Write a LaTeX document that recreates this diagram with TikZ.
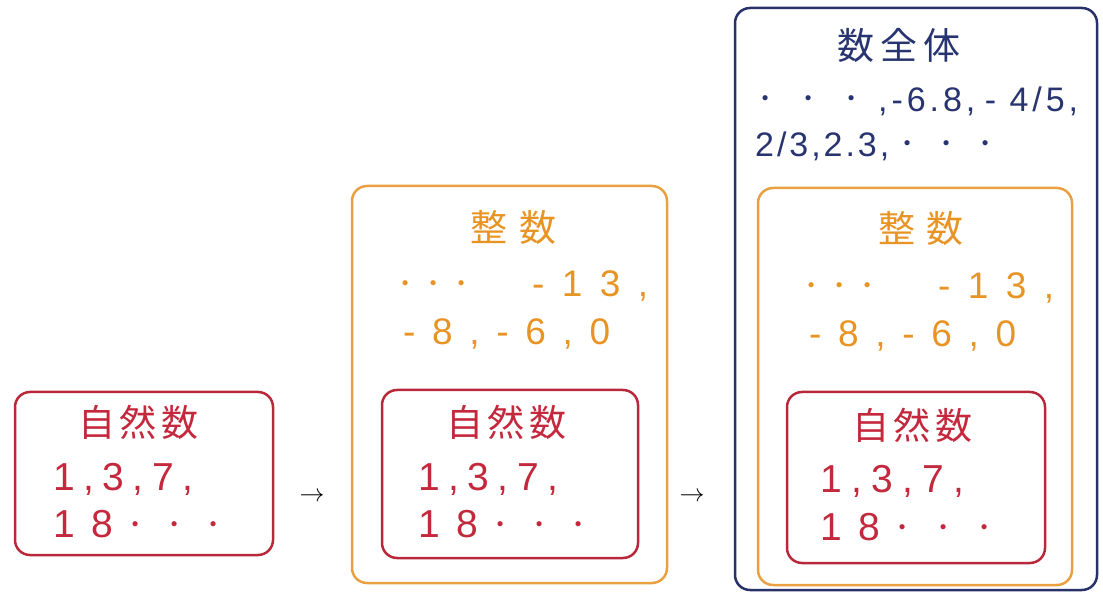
\documentclass[tikz,border=0pt]{standalone}
\usepackage{fontspec}
\setmainfont{Liberation Sans}
\newfontfamily\cjk{Noto Sans CJK JP}
\definecolor{redln}{RGB}{185,40,58}
\definecolor{orln}{RGB}{232,160,64}
\definecolor{nvln}{RGB}{40,50,104}
\definecolor{redt}{RGB}{196,40,60}
\definecolor{ort}{RGB}{232,148,36}
\definecolor{nvt}{RGB}{40,52,112}
\newcommand\gp{\hfill}
\newcommand\dt{\makebox[10pt]{\raisebox{7pt}{\fontsize{19}{20}\selectfont •}}}
\newcommand\spr[2]{\makebox[#1pt][s]{#2}}
\tikzset{
  bx/.style={draw, rounded corners=15pt, line width=2.5pt, inner sep=0pt},
  rbox/.style={bx, draw=redln},
  obox/.style={bx, draw=orln},
  nbox/.style={bx, draw=nvln},
  txt/.style={inner sep=0pt, anchor=base west},
  rtxt/.style={txt, text=redt, font=\fontsize{39}{44}\selectfont},
  otxt/.style={txt, text=ort, font=\fontsize{37}{44}\selectfont},
  ntxt/.style={txt, text=nvt, font=\fontsize{34}{40}\selectfont},
  ttl/.style={inner sep=0pt, anchor=center, font=\cjk\fontsize{37}{42}\selectfont},
  arr/.style={inner sep=0pt, font=\fontsize{28}{30}\selectfont}
}
\begin{document}
\begin{tikzpicture}[x=1pt,y=-1pt]
\useasboundingbox (0,0) rectangle (1103,593);
% ---------- box A
\node[rbox, minimum width=258, minimum height=163] (A) at (144,473.5) {};
\node[ttl, text=redt] (Atitle) at (138.5,422) {\spr{120}{自\gp{}然\gp{}数}};
\node[rtxt] (Al1) at (53,490) {\spr{140}{1\gp{},\gp{}3\gp{},\gp{}7\gp{},}};
\node[rtxt] (Al2a) at (53,537) {\spr{60}{1\gp{}8}};
\node[rtxt] (Al2b) at (130,537) {\spr{88}{\dt\gp{}\dt\gp{}\dt}};
% arrow 1
\node[arr] (ar1) at (312,497) {$\rightarrow$};
% ---------- box B
\node[obox, minimum width=315, minimum height=397] (B) at (509.5,384.5) {};
\node[ttl, text=ort] (Btitle) at (513.5,227) {\spr{86}{整\gp{}数}};
\node[otxt] (Bl1a) at (400,297) {\spr{66}{\dt\gp{}\dt\gp{}\dt}};
\node[otxt] (Bl1b) at (532,297) {\spr{116}{-\gp{}1\gp{}3\gp{},}};
\node[otxt] (Bl2) at (403,345) {\spr{207}{-\gp{}8\gp{},\gp{}-\gp{}6\gp{},\gp{}0}};
\node[rbox, minimum width=256, minimum height=168] (Bi) at (510,474) {};
\node[ttl, text=redt] (Bititle) at (506.5,422) {\spr{120}{自\gp{}然\gp{}数}};
\node[rtxt] (Bil1) at (418,490) {\spr{140}{1\gp{},\gp{}3\gp{},\gp{}7\gp{},}};
\node[rtxt] (Bil2a) at (418,537) {\spr{60}{1\gp{}8}};
\node[rtxt] (Bil2b) at (495,537) {\spr{88}{\dt\gp{}\dt\gp{}\dt}};
% arrow 2
\node[arr] (ar2) at (692,497) {$\rightarrow$};
% ---------- box C
\node[nbox, minimum width=362, minimum height=582] (C) at (916,299) {};
\node[ttl, text=nvt] (Ctitle) at (899,45) {\spr{124}{数\gp{}全\gp{}体}};
\node[ntxt] (Cl1a) at (760,112) {\spr{96}{\dt\gp{}\dt\gp{}\dt}};
\node[ntxt] (Cl1b) at (878,112) {\spr{200}{,\gp{}-\gp{}6\gp{}.\gp{}8\gp{}, - \gp{}4\gp{}/\gp{}5\gp{},}};
\node[ntxt] (Cl2a) at (755,157) {\spr{134}{2\gp{}/\gp{}3\gp{},\gp{}2\gp{}.\gp{}3\gp{},}};
\node[ntxt] (Cl2b) at (902,157) {\spr{88}{\dt\gp{}\dt\gp{}\dt}};
\node[obox, minimum width=314, minimum height=397] (Cm) at (915,386.5) {};
\node[ttl, text=ort] (Cmtitle) at (921,228) {\spr{86}{整\gp{}数}};
\node[otxt] (Cml1a) at (806,299) {\spr{66}{\dt\gp{}\dt\gp{}\dt}};
\node[otxt] (Cml1b) at (938,299) {\spr{116}{-\gp{}1\gp{}3\gp{},}};
\node[otxt] (Cml2) at (809,347) {\spr{207}{-\gp{}8\gp{},\gp{}-\gp{}6\gp{},\gp{}0}};
\node[rbox, minimum width=258, minimum height=171] (Ci) at (916,477.5) {};
\node[ttl, text=redt] (Cititle) at (912.5,425) {\spr{120}{自\gp{}然\gp{}数}};
\node[rtxt] (Cil1) at (820,492) {\spr{144}{1\gp{},\gp{}3\gp{},\gp{}7\gp{},}};
\node[rtxt] (Cil2a) at (820,540) {\spr{60}{1\gp{}8}};
\node[rtxt] (Cil2b) at (897,540) {\spr{92}{\dt\gp{}\dt\gp{}\dt}};
\end{tikzpicture}
\end{document}
